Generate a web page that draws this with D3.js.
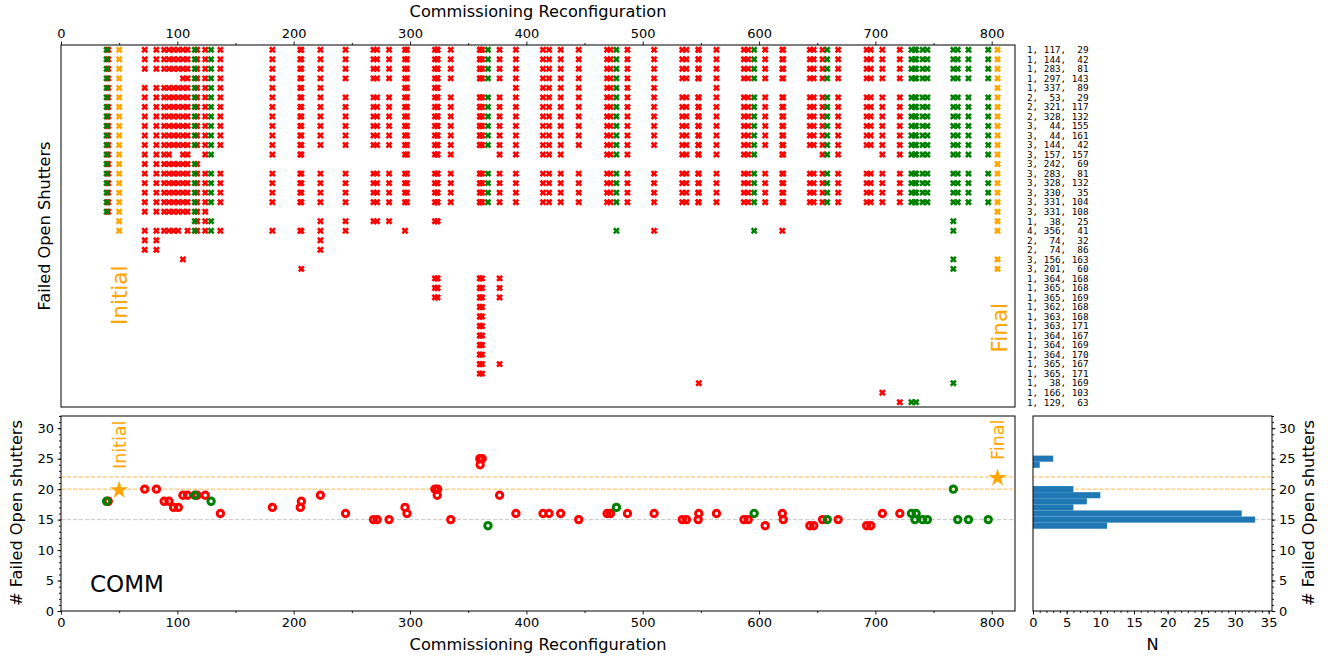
<!DOCTYPE html>
<html>
<head>
<meta charset="utf-8">
<style>
body { margin: 0; background: #fff; }
svg text { font-family: "DejaVu Sans", sans-serif; }
</style>
</head>
<body>
<svg width="1338" height="660"></svg>
<script src="https://cdn.jsdelivr.net/npm/d3@7"></script>
<script>
// failed-open shutters, one per row of the top panel (quadrant, i, j)
var shutterQ = [1,1,1,1,1,2,2,2,3,3,3,3,3,3,3,3,3,3,1,4,2,2,3,3,1,1,1,1,1,1,1,1,1,1,1,1,1,1];
var shutterI = [117,144,283,297,337,53,321,328,44,44,144,157,242,283,328,330,331,331,38,356,74,74,156,201,364,365,365,362,363,363,364,364,364,365,365,38,166,129];
var shutterJ = [29,42,81,143,89,29,117,132,155,161,42,157,69,81,132,35,104,108,25,41,32,86,163,60,168,168,169,168,168,171,167,169,170,167,171,169,103,63];

// commissioning reconfigurations: number, status, rows (shutters) failed open
var reconfig = [39.2,40.6,50,72,82,88.7,92.8,96.8,100.8,104.8,108.8,115,117,124,129,137,181.7,205.7,206.6,223,
  244.6,268.6,271.7,282,295.7,297.4,321.4,323.7,323.4,335,360,362,360.3,367,377,391,414.3,419.5,429.5,445,
  469.4,472.3,477.4,486.9,509.8,534,537.6,548.2,547.7,563.4,587,590.7,595.8,605.3,620,620.8,643.7,647,654.6,658.6,
  668,692.5,696,706,721,731,735,734,740.6,744.7,767,770.8,780,797,805];
var cfgStatus = ["G","R","I","R","R","R","R","R","R","R","R","G","R","R","G","R","R","R","R","R",
  "R","R","R","R","R","R","R","R","R","R","R","R","R","G","R","R","R","R","R","R",
  "R","R","G","R","R","R","R","R","R","R","R","R","G","R","R","R","R","R","R","G",
  "R","R","R","R","R","G","G","G","G","G","G","G","G","G","F"];
var failedRows = ["0-17","0-17","0-19","0-2,4-17,19-21","0-2,4-17,19-21","0-2,4-17,19","0-2,4-17,19",
  "0-2,4-10,12-17,19","0-2,4-10,12-17,19","0-17,22","0-17,19","0-10,12-19","0-10,12-19","0-11,13-19",
  "0-11,13-16,18-19","0-10,13-16,19","0-11,13-16,19","0-11,13-16,19","0-11,13-16,19,23","0-10,13-16,18-21",
  "0-3,5-10,13-16,18-19","0-3,5-10,13-16,18","0-3,5-10,13-16,18","0-3,5-10,13-16,18","0-11,13-16,19","0-11,13-16",
  "0-11,13-16,18,24-26","0-11,13-16,18,24-26","0-11,13-16,18,24-25","0-3,5-11,13-16",
  "0-3,5-10,13-16,24-34","0-3,5-10,13-16,24-34","0-3,5-10,13-16,24-33","0-3,5-10,13-16","0-3,5-11,13-16,24-26,33",
  "0-11,13-16","0-11,13-16","0-11,13-16","0-11,13-16","0-10,13-16",
  "0-11,13-16","0-11,13-16","0-11,13-16,19","0-11,13-16","0-10,13-16,19",
  "0-3,5-11,13-16","0-3,5-11,13-16","0-3,5-11,13-16,35","0-3,5-11,13-16","0-11,13-16",
  "0-3,5-11,13-16","0-3,5-11,13-16","0-3,5-11,13-16,19","0-3,5-10,13-16","0-3,5-11,13-16,19","0-3,5-11,13-16",
  "0-3,5-10,13-16","0-3,5-10,13-16","0-3,5-11,13-16","0-3,5-11,13-16","0-3,5-11,13-16",
  "0-3,5-10,13-16","0-3,5-10,13-16","0-3,5-11,13-16,36","0-3,5-11,13-16,37",
  "0-3,5-11,13-16,37","0-3,5-11,13-16,37","0-3,5-11,13-16","0-3,5-11,13-16","0-3,5-11,13-16",
  "0-3,5-11,13-16,18-19,22-23,35","0-3,5-11,13-16","0-3,5-11,13-16","0-3,5-11,13-16","0-19,22-23"];

// histogram of # failed open shutters
var histLow = [13.5,14.5,15.5,16.5,17.5,18.5,19.5,20.5,21.5,22.5,23.5,24.5];
var histCount = [11,33,31,6,8,10,6,0,0,0,1,3];

var xTicks = [0,100,200,300,400,500,600,700,800];
var yTicks = [0,5,10,15,20,25,30];
var nTicks = [0,5,10,15,20,25,30,35];
var refLines = [{v: 15, c: "#c8c8c8"}, {v: 20, c: "#ffb84d"}, {v: 22, c: "#ffb84d"}];

var colors = {R: "red", G: "green", I: "orange", F: "orange"};

function parseRows(s) {
  var out = [];
  s.split(",").forEach(function(p) {
    var ab = p.split("-").map(Number);
    if (ab.length == 1) out.push(ab[0]);
    else for (var k = ab[0]; k <= ab[1]; k++) out.push(k);
  });
  return out;
}

var configs = reconfig.map(function(r, i) {
  var rows = parseRows(failedRows[i]);
  return {x: r, s: cfgStatus[i], rows: rows, n: rows.length};
});
// draw order: red, then green, then initial/final
var layer = {R: 0, G: 1, I: 2, F: 2};
configs.sort(function(a, b) { return layer[a.s] - layer[b.s]; });

var svg = d3.select("svg");
var x = d3.scaleLinear().domain([0, 820]).range([61, 1015]);
var yTop = d3.scaleLinear().domain([-0.5, 37.5]).range([45, 407]);
var yBot = d3.scaleLinear().domain([0, 32]).range([611, 416]);
var xHist = d3.scaleLinear().domain([0, 35.5]).range([1033, 1272]);

function styleAxis(g) {
  g.select(".domain").remove();
  g.selectAll("line").attr("stroke", "#000").attr("stroke-width", 0.9);
  g.selectAll("text").attr("font-size", 13).attr("fill", "#000").attr("font-family", "DejaVu Sans");
}

// ---------- top panel ----------
// filled "X" marker
var L = 3.6, w = 1.3;
var plus = [[w,L],[w,w],[L,w],[L,-w],[w,-w],[w,-L],[-w,-L],[-w,-w],[-L,-w],[-L,w],[-w,w],[-w,L]];
var c45 = Math.SQRT1_2;
var xShape = "M" + plus.map(function(p) {
  return [(p[0] - p[1]) * c45, (p[0] + p[1]) * c45].join(",");
}).join("L") + "Z";

var marks = [];
configs.forEach(function(c) {
  c.rows.forEach(function(r) { marks.push({x: c.x, r: r, s: c.s}); });
});
svg.append("g").selectAll("path")
  .data(marks)
  .enter()
  .append("path")
  .attr("d", xShape)
  .attr("transform", function(d) { return "translate(" + x(d.x) + "," + yTop(d.r) + ")"; })
  .attr("fill", function(d) { return colors[d.s]; });

svg.append("rect").attr("x", 61).attr("y", 45).attr("width", 954).attr("height", 362)
  .attr("fill", "none").attr("stroke", "#000").attr("stroke-width", 1);

svg.append("g").attr("transform", "translate(0,45)")
  .call(d3.axisTop(x).tickValues(d3.range(50, 820, 100)).tickSize(2).tickFormat(""))
  .call(styleAxis);
svg.append("g").attr("transform", "translate(0,45)")
  .call(d3.axisTop(x).tickValues(xTicks).tickSize(3.5).tickPadding(3.5))
  .call(styleAxis);

svg.append("text").attr("x", 538).attr("y", 17).attr("text-anchor", "middle")
  .attr("font-size", 16.2).text("Commissioning Reconfiguration");
svg.append("text").attr("transform", "translate(50,226) rotate(-90)").attr("text-anchor", "middle")
  .attr("font-size", 16.2).text("Failed Open Shutters");

svg.append("g").selectAll("text")
  .data(shutterQ)
  .enter()
  .append("text")
  .attr("x", 1027)
  .attr("y", function(d, i) { return yTop(i) + 3.3; })
  .attr("font-size", 9.3)
  .style("font-family", "'DejaVu Sans Mono', monospace")
  .style("white-space", "pre")
  .text(function(d, i) {
    return d + ", " + String(shutterI[i]).padStart(3) + ", " + String(shutterJ[i]).padStart(3);
  });

svg.append("text").attr("transform", "translate(126.5,325) rotate(-90)")
  .attr("font-size", 21.5).attr("fill", "orange").text("Initial");
svg.append("text").attr("transform", "translate(1006.5,352.5) rotate(-90)")
  .attr("font-size", 21.5).attr("fill", "orange").text("Final");

// ---------- bottom panel ----------
var bot = svg.append("g");
bot.selectAll("line.ref")
  .data(refLines)
  .enter()
  .append("line")
  .attr("x1", 61).attr("x2", 1015)
  .attr("y1", function(d) { return yBot(d.v); })
  .attr("y2", function(d) { return yBot(d.v); })
  .attr("stroke", function(d) { return d.c; })
  .attr("stroke-width", 1)
  .attr("stroke-dasharray", "4,2");

bot.selectAll("circle")
  .data(configs.filter(function(c) { return c.s == "R" || c.s == "G"; }))
  .enter()
  .append("circle")
  .attr("cx", function(d) { return x(d.x); })
  .attr("cy", function(d) { return yBot(d.n); })
  .attr("r", 3.2)
  .attr("fill", "none")
  .attr("stroke", function(d) { return colors[d.s]; })
  .attr("stroke-width", 3);

bot.selectAll("path.star")
  .data(configs.filter(function(c) { return c.s == "I" || c.s == "F"; }))
  .enter()
  .append("path")
  .attr("d", d3.symbol(d3.symbolStar, 100)())
  .attr("transform", function(d) { return "translate(" + x(d.x) + "," + (yBot(d.n) + 1) + ")"; })
  .attr("fill", "orange");

svg.append("rect").attr("x", 61).attr("y", 416).attr("width", 954).attr("height", 195)
  .attr("fill", "none").attr("stroke", "#000").attr("stroke-width", 1);

svg.append("g").attr("transform", "translate(0,611)")
  .call(d3.axisBottom(x).tickValues(d3.range(50, 820, 100)).tickSize(2).tickFormat(""))
  .call(styleAxis);
svg.append("g").attr("transform", "translate(0,611)")
  .call(d3.axisBottom(x).tickValues(xTicks).tickSize(3.5).tickPadding(3.5))
  .call(styleAxis);
svg.append("g").attr("transform", "translate(61,0)")
  .call(d3.axisLeft(yBot).tickValues(d3.range(0, 33)).tickSize(2).tickFormat(""))
  .call(styleAxis);
svg.append("g").attr("transform", "translate(61,0)")
  .call(d3.axisLeft(yBot).tickValues(yTicks).tickSize(3.5).tickPadding(3.5))
  .call(styleAxis);

svg.append("text").attr("x", 538).attr("y", 650).attr("text-anchor", "middle")
  .attr("font-size", 16.2).text("Commissioning Reconfiguration");
svg.append("text").attr("transform", "translate(22,513) rotate(-90)").attr("text-anchor", "middle")
  .attr("font-size", 16.2).text("# Failed Open shutters");
svg.append("text").attr("x", 90).attr("y", 592).attr("font-size", 23).text("COMM");
svg.append("text").attr("transform", "translate(126,469) rotate(-90)")
  .attr("font-size", 17.5).attr("fill", "orange").text("Initial");
svg.append("text").attr("transform", "translate(1004,460) rotate(-90)")
  .attr("font-size", 17.5).attr("fill", "orange").text("Final");

// ---------- histogram ----------
var hist = svg.append("g");
hist.selectAll("line.ref")
  .data(refLines)
  .enter()
  .append("line")
  .attr("x1", 1033).attr("x2", 1272)
  .attr("y1", function(d) { return yBot(d.v); })
  .attr("y2", function(d) { return yBot(d.v); })
  .attr("stroke", function(d) { return d.c; })
  .attr("stroke-width", 1)
  .attr("stroke-dasharray", "4,2");

hist.selectAll("rect")
  .data(histCount)
  .enter()
  .append("rect")
  .attr("x", xHist(0))
  .attr("y", function(d, i) { return yBot(histLow[i] + 1); })
  .attr("width", function(d) { return xHist(d) - xHist(0); })
  .attr("height", function(d, i) { return yBot(histLow[i]) - yBot(histLow[i] + 1); })
  .attr("fill", "#1f77b4");

svg.append("rect").attr("x", 1033).attr("y", 416).attr("width", 239).attr("height", 195)
  .attr("fill", "none").attr("stroke", "#000").attr("stroke-width", 1);

svg.append("g").attr("transform", "translate(0,611)")
  .call(d3.axisBottom(xHist).tickValues(d3.range(0, 36)).tickSize(2).tickFormat(""))
  .call(styleAxis);
svg.append("g").attr("transform", "translate(0,611)")
  .call(d3.axisBottom(xHist).tickValues(nTicks).tickSize(3.5).tickPadding(3.5))
  .call(styleAxis);
svg.append("g").attr("transform", "translate(1272,0)")
  .call(d3.axisRight(yBot).tickValues(d3.range(0, 33)).tickSize(2).tickFormat(""))
  .call(styleAxis);
svg.append("g").attr("transform", "translate(1272,0)")
  .call(d3.axisRight(yBot).tickValues(yTicks).tickSize(3.5).tickPadding(3.5))
  .call(styleAxis);

svg.append("text").attr("x", 1152.5).attr("y", 650).attr("text-anchor", "middle")
  .attr("font-size", 16.2).text("N");
svg.append("text").attr("transform", "translate(1314,513) rotate(-90)").attr("text-anchor", "middle")
  .attr("font-size", 16.2).text("# Failed Open shutters");
</script>
</body>
</html>
